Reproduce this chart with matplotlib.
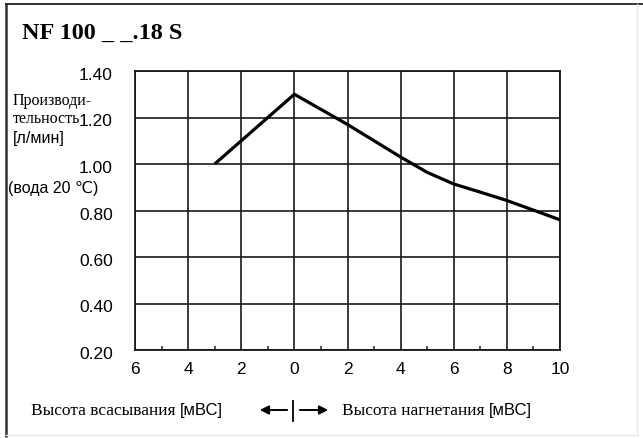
import matplotlib
matplotlib.use("Agg")
import matplotlib.pyplot as plt
from matplotlib.lines import Line2D
from matplotlib.patches import FancyArrowPatch
from matplotlib.transforms import ScaledTranslation

# ---- data ----
height_m = [-3, 0, 2, 3, 4, 5, 6, 7, 8, 10]          # negative = suction side
flow_lpm = [1.00, 1.30, 1.17, 1.10, 1.03, 0.964, 0.914, 0.879, 0.843, 0.76]
x_ticks = [-6, -4, -2, 0, 2, 4, 6, 8, 10]
x_tick_labels = ["6", "4", "2", "0", "2", "4", "6", "8", "10"]
x_minor = [-5, -3, -1, 1, 3, 5, 7, 9]
y_ticks = [0.20, 0.40, 0.60, 0.80, 1.00, 1.20, 1.40]
y_tick_labels = ["0.20", "0.40", "0.60", "0.80", "1.00", "1.20", "1.40"]
title = "NF 100 _ _.18 S"

W, H = 643, 438
fig = plt.figure(figsize=(W / 100, H / 100), dpi=100)
fig.patch.set_facecolor("white")

def fx(px):
    return px / W

def fy(py):
    return 1 - py / H

ax = fig.add_axes([fx(135), fy(350), fx(560) - fx(135), fy(71) - fy(350)])
ax.plot(height_m, flow_lpm, color="black", lw=2.3, solid_capstyle="butt",
        solid_joinstyle="round", zorder=3)
ax.set_xlim(-6, 10)
ax.set_ylim(0.20, 1.40)
ax.set_xticks(x_ticks)
ax.set_xticklabels(x_tick_labels, fontfamily="Liberation Sans", fontsize=12.5)
ax.set_yticks(y_ticks)
ax.set_yticklabels(y_tick_labels, fontfamily="Liberation Sans", fontsize=12.5)
ax.set_xticks(x_minor, minor=True)
ax.tick_params(axis="y", length=0, pad=16)
ax.tick_params(axis="x", which="major", length=0, pad=9)
ax.tick_params(axis="x", which="minor", length=3, direction="in", width=1.2,
               colors="#333333")
shift = ScaledTranslation(0, -0.03, fig.dpi_scale_trans)
for lab in ax.get_yticklabels():
    lab.set_transform(lab.get_transform() + shift)
ax.grid(True, which="major", color="#1a1a1a", lw=1.2)
for s in ax.spines.values():
    s.set_color("#1a1a1a")
    s.set_linewidth(1.3)

# title
fig.text(fx(22), fy(33), title, fontfamily="Liberation Serif", fontweight="bold",
         fontsize=17.5, ha="left", va="center")

# y-axis label pieces
fig.text(fx(13), fy(101), "Производи-", fontfamily="Liberation Serif", fontsize=11.5,
         ha="left", va="center")
fig.text(fx(13), fy(119), "тельность", fontfamily="Liberation Serif", fontsize=11.5,
         ha="left", va="center")
fig.text(fx(13), fy(139), "[л/мин]", fontfamily="Liberation Sans", fontsize=11.5,
         ha="left", va="center")
fig.text(fx(8), fy(188), "(вода 20 ℃)", fontfamily=["Liberation Sans", "DejaVu Sans"],
         fontsize=11.5, ha="left", va="center")

# bottom labels
t1 = fig.text(fx(31), fy(411), "Высота всасывания ", fontfamily="Liberation Serif",
              fontsize=12.5, ha="left", va="center")
fig.canvas.draw()
bb = t1.get_window_extent()
fig.text(bb.x1 / W, fy(411), "[мВС]", fontfamily="Liberation Sans", fontsize=12,
         ha="left", va="center")
t2 = fig.text(fx(342), fy(411), "Высота нагнетания ", fontfamily="Liberation Serif",
              fontsize=12.5, ha="left", va="center")
fig.canvas.draw()
bb2 = t2.get_window_extent()
fig.text(bb2.x1 / W, fy(411), "[мВС]", fontfamily="Liberation Sans", fontsize=12,
         ha="left", va="center")

# direction arrows
arrow_kw = dict(arrowstyle="-|>", color="black", lw=1.4, mutation_scale=13)
fig.patches.append(FancyArrowPatch(
    (fx(290), fy(410)), (fx(257), fy(410)), transform=fig.transFigure, **arrow_kw))
fig.patches.append(FancyArrowPatch(
    (fx(297), fy(410)), (fx(331), fy(410)), transform=fig.transFigure, **arrow_kw))
fig.add_artist(Line2D([fx(293), fx(293)], [fy(401), fy(421)], color="black", lw=1.3,
                      transform=fig.transFigure))

# outer frame
fig.add_artist(Line2D([fx(6), fx(6)], [fy(4), fy(436)], color="#333333", lw=1.8,
                      transform=fig.transFigure))
fig.add_artist(Line2D([fx(6), fx(642)], [fy(4), fy(4)], color="#222222", lw=1.3,
                      transform=fig.transFigure))
fig.add_artist(Line2D([fx(637), fx(637)], [fy(4), fy(436)], color="#e6e6e6", lw=1.0,
                      transform=fig.transFigure))
fig.add_artist(Line2D([fx(6), fx(637)], [fy(435), fy(435)], color="#e6e6e6", lw=1.0,
                      transform=fig.transFigure))

fig.savefig("out.png", dpi=100, facecolor="white")
